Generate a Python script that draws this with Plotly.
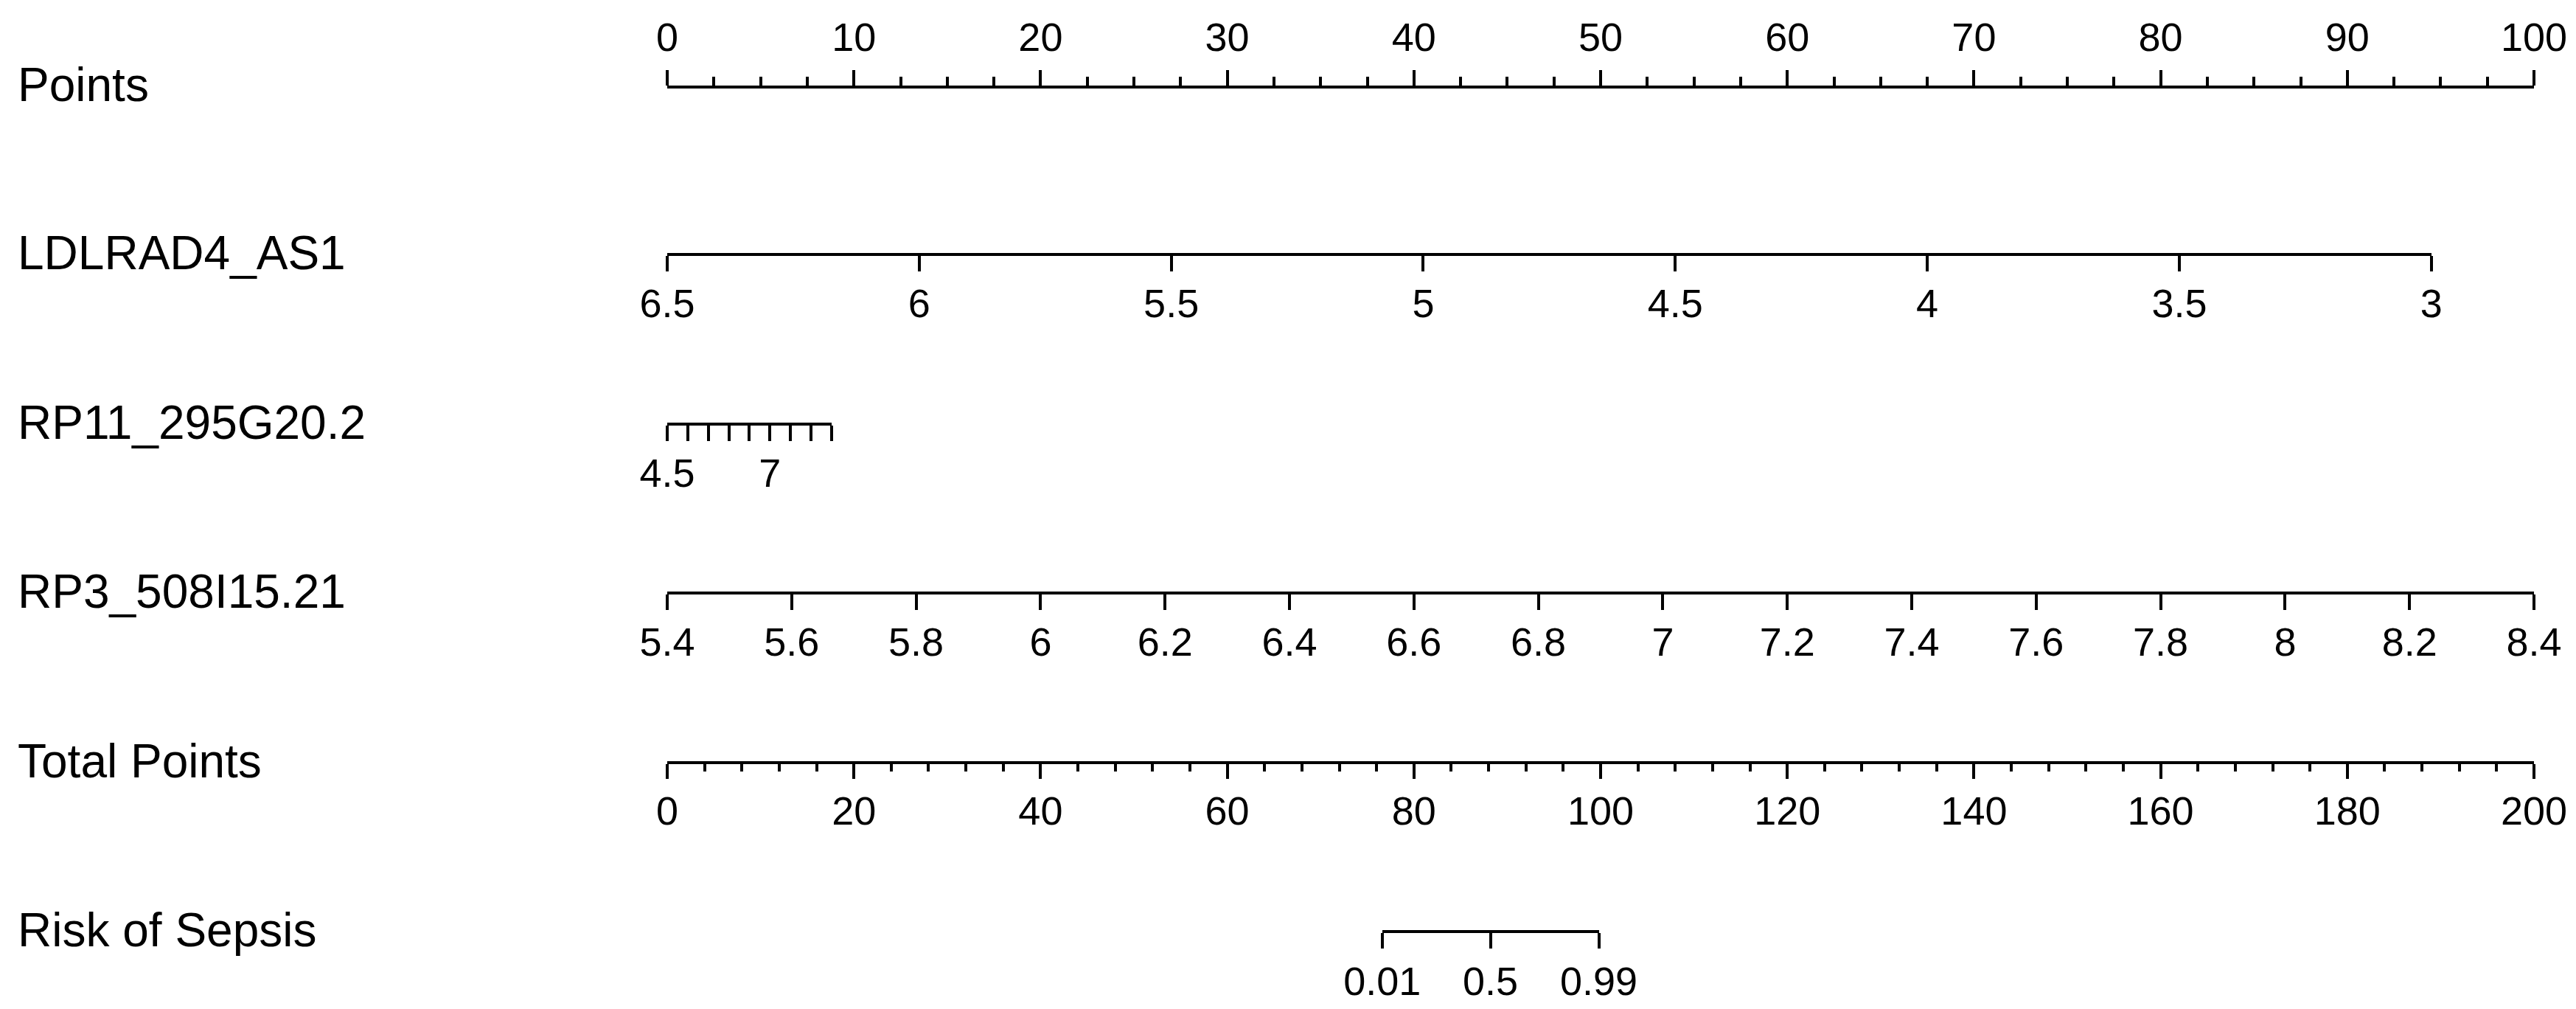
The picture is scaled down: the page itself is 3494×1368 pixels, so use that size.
import numpy as np
import plotly.graph_objects as go

# ---------------- data ----------------
row_labels = ["Points", "LDLRAD4_AS1", "RP11_295G20.2", "RP3_508I15.21",
              "Total Points", "Risk of Sepsis"]

points_ticks = [0, 10, 20, 30, 40, 50, 60, 70, 80, 90, 100]

ldl_ticks = [6.5, 6, 5.5, 5, 4.5, 4, 3.5, 3]
ldl_labels = ["6.5", "6", "5.5", "5", "4.5", "4", "3.5", "3"]
ldl_value_range = [6.5, 3.0]      # values at the two ends of the scale
ldl_points_range = [0.0, 94.5]    # points at those ends

rp11_ticks = [4.5, 5, 5.5, 6, 6.5, 7, 7.5, 8, 8.5]
rp11_labels = ["4.5", "", "", "", "", "7", "", "", ""]
rp11_value_range = [4.5, 8.5]
rp11_points_range = [0.0, 8.8]

rp3_ticks = [5.4, 5.6, 5.8, 6, 6.2, 6.4, 6.6, 6.8, 7, 7.2, 7.4, 7.6, 7.8, 8, 8.2, 8.4]
rp3_labels = ["5.4", "5.6", "5.8", "6", "6.2", "6.4", "6.6", "6.8", "7", "7.2",
              "7.4", "7.6", "7.8", "8", "8.2", "8.4"]
rp3_value_range = [5.4, 8.4]
rp3_points_range = [0.0, 100.0]

total_ticks = [0, 20, 40, 60, 80, 100, 120, 140, 160, 180, 200]

risk_probs = [0.01, 0.5, 0.99]
risk_labels = ["0.01", "0.5", "0.99"]
lp_zero_total = 88.2     # total points where linear predictor = 0
lp_per_total = 0.396     # linear predictor per total point

# ---------------- layout geometry ----------------
W, H = 3494, 1368
X0, X1 = 905, 3437                     # pixel of 0 and of full scale
row_y = [120, 343, 573, 802, 1032, 1261]     # axis line positions
label_y = [115, 343, 573, 802, 1032, 1261]   # row label centres
FONT = "Liberation Sans"
LW = 3.5


def px_points(p):
    return X0 + p / 100.0 * (X1 - X0)


def px_total(t):
    return X0 + t / 200.0 * (X1 - X0)


def interp_points(v, vr, pr):
    return pr[0] + (v - vr[0]) / (vr[1] - vr[0]) * (pr[1] - pr[0])


def yfrac(py):
    return 1 - py / H


fig = go.Figure()
layout = dict(template="none", width=W, height=H,
              margin=dict(l=0, r=0, t=0, b=0, pad=0, autoexpand=False),
              paper_bgcolor="white", plot_bgcolor="rgba(0,0,0,0)",
              showlegend=False, font=dict(family=FONT, color="black"))

axis_common = dict(showline=True, linewidth=LW, linecolor="black",
                   ticks="outside", tickwidth=LW, tickcolor="black",
                   showgrid=False, zeroline=False, fixedrange=True,
                   automargin=False,
                   tickfont=dict(family=FONT, size=54, color="black"))


def add_row(i, xvals, rng, dom_px, tickvals, ticktext, side="bottom",
            ticklen=21, minor=None, standoff=-3):
    n = i + 1
    xa = "xaxis" if n == 1 else f"xaxis{n}"
    ya = "yaxis" if n == 1 else f"yaxis{n}"
    yf = yfrac(row_y[i])
    if side == "top":
        ydom = [yf - 0.01, yf]
    else:
        ydom = [yf, yf + 0.01]
    ax = dict(axis_common)
    ax.update(domain=[dom_px[0] / W, dom_px[1] / W], range=rng,
              anchor="y" if n == 1 else f"y{n}", side=side,
              tickmode="array", tickvals=tickvals, ticktext=ticktext,
              ticklen=ticklen, ticklabelstandoff=standoff)
    if minor is not None:
        ax["minor"] = minor
    layout[xa] = ax
    layout[ya] = dict(domain=ydom, range=[0, 1], visible=False, fixedrange=True,
                      automargin=False,
                      anchor="x" if n == 1 else f"x{n}")
    fig.add_trace(go.Scatter(x=xvals, y=[0.5] * len(xvals), mode="markers",
                             marker=dict(opacity=0), hoverinfo="skip",
                             xaxis="x" if n == 1 else f"x{n}",
                             yaxis="y" if n == 1 else f"y{n}"))


minor_pts = dict(dtick=2.5, ticklen=12, tickwidth=LW, tickcolor="black",
                 ticks="outside", showgrid=False)
minor_tot = dict(dtick=4, ticklen=10, tickwidth=LW, tickcolor="black",
                 ticks="outside", showgrid=False)

# Points
add_row(0, points_ticks, [0, 100], [px_points(0), px_points(100)],
        points_ticks, [str(v) for v in points_ticks], side="top",
        minor=minor_pts, standoff=5)

# LDLRAD4_AS1
add_row(1, ldl_ticks, ldl_value_range,
        [px_points(interp_points(ldl_value_range[0], ldl_value_range, ldl_points_range)),
         px_points(interp_points(ldl_value_range[1], ldl_value_range, ldl_points_range))],
        ldl_ticks, ldl_labels)

# RP11_295G20.2
add_row(2, rp11_ticks, rp11_value_range,
        [px_points(interp_points(rp11_value_range[0], rp11_value_range, rp11_points_range)),
         px_points(interp_points(rp11_value_range[1], rp11_value_range, rp11_points_range))],
        rp11_ticks, rp11_labels)

# RP3_508I15.21
add_row(3, rp3_ticks, rp3_value_range,
        [px_points(interp_points(rp3_value_range[0], rp3_value_range, rp3_points_range)),
         px_points(interp_points(rp3_value_range[1], rp3_value_range, rp3_points_range))],
        rp3_ticks, rp3_labels)

# Total Points
add_row(4, total_ticks, [0, 200], [px_total(0), px_total(200)],
        total_ticks, [str(v) for v in total_ticks], ticklen=20, minor=minor_tot)

# Risk of Sepsis (logit scale)
risk_lp = [float(np.log(p / (1 - p))) for p in risk_probs]
risk_tot = [lp_zero_total + lp / lp_per_total for lp in risk_lp]
add_row(5, risk_lp, [risk_lp[0], risk_lp[-1]],
        [px_total(risk_tot[0]), px_total(risk_tot[-1])],
        risk_lp, risk_labels, standoff=-2)

# row labels
annotations = []
for lab, py in zip(row_labels, label_y):
    annotations.append(dict(text=lab, x=22 / W, y=yfrac(py), xref="paper", yref="paper",
                            xanchor="left", yanchor="middle", showarrow=False,
                            font=dict(family=FONT, size=64, color="black")))
layout["annotations"] = annotations

fig.update_layout(**layout)
fig.write_html("out.html", config={"displayModeBar": False},
               post_script="document.body.style.margin='0';"
                           "document.body.style.padding='0';"
                           "document.body.style.overflow='hidden';")
